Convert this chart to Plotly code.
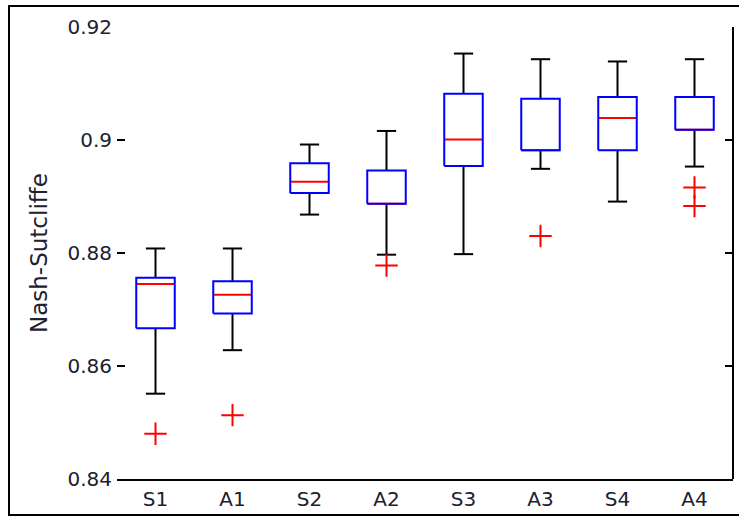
import plotly.graph_objects as go

# ---- data ----
categories = ["S1", "A1", "S2", "A2", "S3", "A3", "S4", "A4"]
upper_whisker = [0.8808, 0.8808, 0.8992, 0.9016, 0.9153, 0.9143, 0.9139, 0.9143]
q3 = [0.8756, 0.8750, 0.8959, 0.8946, 0.9082, 0.9073, 0.9076, 0.9076]
medians = [0.8745, 0.8726, 0.8926, 0.8887, 0.9001, 0.8982, 0.9039, 0.9018]
q1 = [0.8667, 0.8693, 0.8906, 0.8887, 0.8954, 0.8982, 0.8982, 0.9018]
lower_whisker = [0.8551, 0.8628, 0.8868, 0.8797, 0.8798, 0.8949, 0.8891, 0.8953]
outlier_groups = ["S1", "A1", "A2", "A3", "A4", "A4"]
outlier_values = [0.8480, 0.8513, 0.8778, 0.8830, 0.8916, 0.8883]

y_ticks = [0.84, 0.86, 0.88, 0.90, 0.92]
y_ticktext = ["0.84", "0.86", "0.88", "0.9", "0.92"]

BOX_HALF = 0.25
CAP_HALF = 0.125

fig = go.Figure()

wx, wy, cx, cy, bx, by, mx, my = [], [], [], [], [], [], [], []
for i, _ in enumerate(categories):
    p = i + 1
    wx += [p, p, None, p, p, None]
    wy += [q3[i], upper_whisker[i], None, q1[i], lower_whisker[i], None]
    cx += [p - CAP_HALF, p + CAP_HALF, None, p - CAP_HALF, p + CAP_HALF, None]
    cy += [upper_whisker[i], upper_whisker[i], None, lower_whisker[i], lower_whisker[i], None]
    mx += [p - BOX_HALF, p + BOX_HALF, None]
    my += [medians[i], medians[i], None]
    bx += [p - BOX_HALF, p + BOX_HALF, p + BOX_HALF, p - BOX_HALF, p - BOX_HALF, None]
    by += [q1[i], q1[i], q3[i], q3[i], q1[i], None]

fig.add_trace(go.Scatter(x=wx, y=wy, mode="lines", line=dict(color="black", width=2),
                         hoverinfo="skip", showlegend=False))
fig.add_trace(go.Scatter(x=cx, y=cy, mode="lines", line=dict(color="black", width=2),
                         hoverinfo="skip", showlegend=False))
fig.add_trace(go.Scatter(x=mx, y=my, mode="lines", line=dict(color="#ff0000", width=2),
                         hoverinfo="skip", showlegend=False))
fig.add_trace(go.Scatter(x=bx, y=by, mode="lines", line=dict(color="#0000ff", width=2),
                         hoverinfo="skip", showlegend=False))

ox = [categories.index(g) + 1 for g in outlier_groups]
fig.add_trace(go.Scatter(x=ox, y=outlier_values, mode="markers",
                         marker=dict(symbol="cross-thin", size=16,
                                     line=dict(color="#ff0000", width=2)),
                         showlegend=False))

# plot area: x 117..733, y 27..479 in a 739x521 window
L, R, T, B = 117, 6, 27, 42
W, H = 739 - L - R, 521 - T - B

def px_x(x):
    return (x - L) / W

def px_y(y):
    return (521 - B - y) / H

shapes = [
    dict(type="line", xref="paper", yref="paper", x0=1, x1=1, y0=0, y1=1,
         line=dict(color="black", width=2)),
    dict(type="rect", xref="paper", yref="paper",
         x0=px_x(9), x1=px_x(745), y0=px_y(515), y1=px_y(6),
         line=dict(color="black", width=2), fillcolor="rgba(0,0,0,0)", layer="above"),
]

FAMILY = "DejaVu Sans, Arial, sans-serif"
font = dict(family=FAMILY, size=20, color="#202030")

fig.update_layout(
    template="none",
    width=739, height=521,
    margin=dict(l=L, r=R, t=T, b=B, autoexpand=False),
    paper_bgcolor="white", plot_bgcolor="white",
    font=font,
    showlegend=False,
    xaxis=dict(range=[0.5, 8.5], tickvals=list(range(1, len(categories) + 1)),
               ticktext=categories, ticks="", showgrid=False, zeroline=False,
               showline=True, linecolor="black", linewidth=2, tickfont=font,
               automargin=False, ticklabelstandoff=1),
    yaxis=dict(range=[0.84, 0.92], tickvals=y_ticks, ticktext=y_ticktext,
               ticks="inside", ticklen=8, tickwidth=2, tickcolor="black",
               mirror="ticks", showline=False, showgrid=False, zeroline=False,
               tickfont=font, automargin=False, ticklabelstandoff=4),
    shapes=shapes,
    annotations=[dict(text="Nash-Sutcliffe", xref="paper", yref="paper",
                      x=px_x(24), y=px_y(253), textangle=-90, showarrow=False,
                      font=dict(family=FAMILY, size=23, color="#202030"))],
)

fig.write_html(
    "out.html",
    config={"displayModeBar": False},
    post_script="document.body.style.margin='0';document.body.style.overflow='hidden';",
)
